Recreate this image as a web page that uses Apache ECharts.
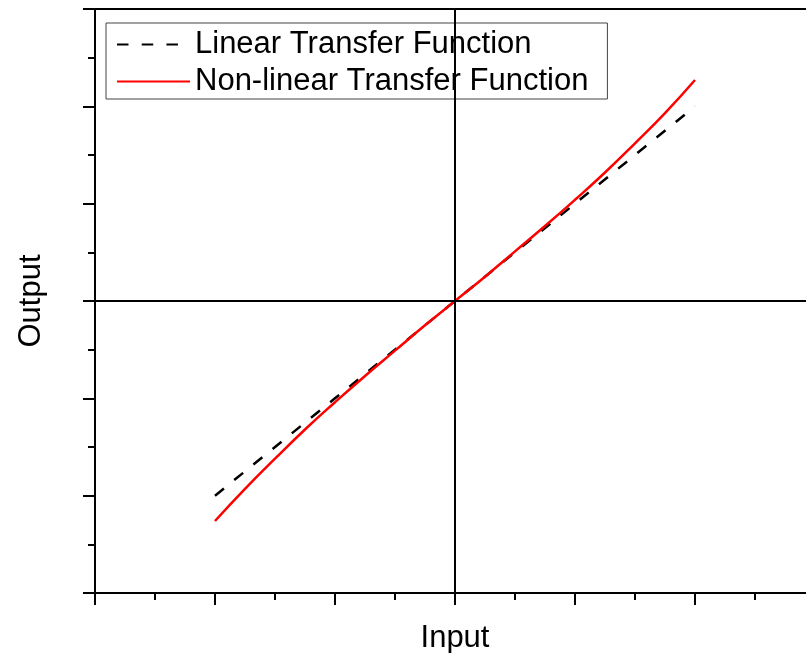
<!DOCTYPE html>
<html>
<head>
<meta charset="utf-8">
<script src="https://cdn.jsdelivr.net/npm/echarts@6/dist/echarts.min.js"></script>
<style>html,body{margin:0;padding:0;background:#fff;}#c{width:806px;height:653px;}</style>
</head>
<body>
<div id="c"></div>
<script>
const seriesNames = ['Linear Transfer Function', 'Non-linear Transfer Function'];
const linearX = [-2, -1, 0, 1, 2];
const linearY = [-2, -1, 0, 1, 2];
const nonlinX = [-2, -1.75, -1.5, -1.25, -1, -0.75, -0.5, -0.25, 0, 0.25, 0.5, 0.75, 1, 1.25, 1.5, 1.75, 2];
const nonlinY = [-2.26, -1.93, -1.62, -1.32, -1.04, -0.77, -0.51, -0.25, 0, 0.25, 0.51, 0.77, 1.04, 1.32, 1.62, 1.93, 2.27];
const xLabel = 'Input';
const yLabel = 'Output';

const font = '"Liberation Sans", Arial, sans-serif';
const chart = echarts.init(document.getElementById('c'), null, {renderer: 'canvas'});
const axisCommon = {
  type: 'value', min: -3, max: 3, interval: 1,
  axisLine: {show: true, onZero: false, lineStyle: {color: '#000', width: 2}},
  axisTick: {show: true, inside: false, length: 12, lineStyle: {color: '#000', width: 2}},
  minorTick: {show: true, splitNumber: 2, length: 7, lineStyle: {color: '#000', width: 2}},
  axisLabel: {show: false},
  splitLine: {show: false},
  nameLocation: 'middle',
  nameTextStyle: {fontFamily: font, fontSize: 31, color: '#000'}
};
chart.setOption({
  animation: false,
  backgroundColor: '#fff',
  grid: {left: 95, top: 9, width: 720, height: 584, outerBoundsMode: 'none', containLabel: false,
         show: true, borderColor: '#000', borderWidth: 2, backgroundColor: 'transparent'},
  xAxis: Object.assign({}, axisCommon, {name: xLabel, nameGap: 30, position: 'bottom'}),
  yAxis: Object.assign({}, axisCommon, {name: yLabel, nameGap: 48, position: 'left'}),
  legend: {
    show: true, orient: 'vertical', left: 106, top: 23,
    padding: [5, 19, 1, 10], itemGap: 4, itemWidth: 73, itemHeight: 14, itemTextGap: 9,
    borderColor: '#444', borderWidth: 1, backgroundColor: '#fff',
    itemStyle: {opacity: 0},
    textStyle: {fontFamily: font, fontSize: 31, color: '#000', lineHeight: 33},
    data: seriesNames
  },
  series: [
    {
      name: seriesNames[0], type: 'line', showSymbol: false, symbol: 'none',
      data: linearX.map((x, i) => [x, linearY[i]]),
      lineStyle: {color: '#000', width: 2.5, type: [11.5, 13.22]},
      itemStyle: {color: '#000'},
      z: 3,
      markLine: {
        silent: true, symbol: 'none', label: {show: false},
        lineStyle: {color: '#000', width: 2, type: 'solid'},
        data: [{xAxis: 0}, {yAxis: 0}]
      }
    },
    {
      name: seriesNames[1], type: 'line', showSymbol: false, symbol: 'none', smooth: true,
      data: nonlinX.map((x, i) => [x, nonlinY[i]]),
      lineStyle: {color: '#ff0000', width: 2.5},
      itemStyle: {color: '#ff0000'},
      z: 4
    }
  ]
});
</script>
</body>
</html>
